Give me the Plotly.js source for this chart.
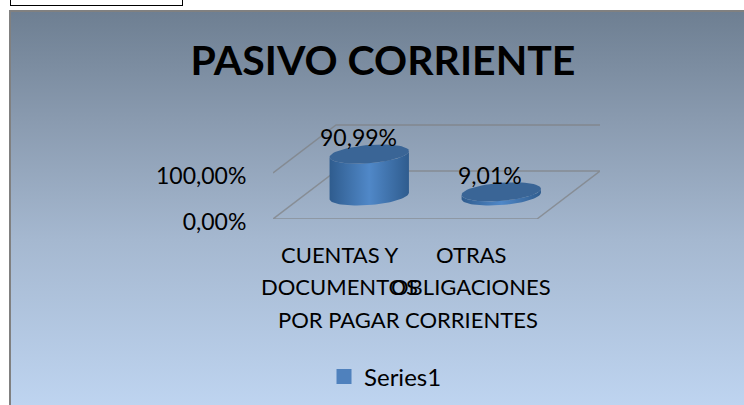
<!DOCTYPE html>
<html>
<head>
<meta charset="utf-8">
<script src="https://cdn.plot.ly/plotly-3.0.1.min.js"></script>
<style>
    html, body { margin: 0; padding: 0; background: #fff; overflow: hidden; }
    #frame { position: absolute; left: 9px; top: 10px; width: 735px; height: 395px; box-sizing: border-box;
             border-left: 2px solid #808080; border-top: 2px solid #808080;
             background: linear-gradient(#6e7f92 0%, #8a9bb0 28%, #a5b8d0 58%, #bed4f0 100%); }
    #cellbox { position: absolute; left: 10px; top: -2px; width: 173px; height: 8px; box-sizing: border-box;
               border: 1px solid #000; background: #fff; }
    #plot { position: absolute; left: 0; top: 0; width: 744px; height: 405px; }
</style>
</head>
<body>
<div id="frame"></div>
<div id="cellbox"></div>
<div id="plot"></div>
<script>
"use strict";

const titleText = "PASIVO CORRIENTE";
const seriesName = "Series1";
const categoryLines = [
    ["CUENTAS Y", "DOCUMENTOS", "POR PAGAR"],
    ["OTRAS", "OBLIGACIONES", "CORRIENTES"],
];
const values = [0.9099, 0.0901];
const valueLabels = ["90,99%", "9,01%"];
const tickValues = [0, 1];
const tickLabels = ["0,00%", "100,00%"];

const FONT = "Lato, 'Open Sans', sans-serif";

// oblique projection: one unit of depth moves this far in axis units
const DEPTH_X = 63 / 132;
const DEPTH_Y = 48 / 46;
const CENTER_DEPTH = 0.48;   // cylinders sit about mid floor
const RADIUS = 0.285;        // cylinder radius, category units
const DEPTH_RADIUS = 0.2;    // same radius along the depth axis

function project(cat, value, depth) {
    return [cat + depth * DEPTH_X, value + depth * DEPTH_Y];
}

// point on the rim of a cylinder at height value
function rim(cat, value, t) {
    const depth = CENTER_DEPTH + DEPTH_RADIUS * Math.sin(t);
    return project(cat + RADIUS * Math.cos(t), value, depth);
}

function angles(from, to, n) {
    const out = [];
    for (let i = 0; i <= n; i++) out.push(from + (to - from) * i / n);
    return out;
}

const traces = [];

// ── walls and floor ──
const gridX = [], gridY = [];
function addGridPath(points) {
    for (const p of points) { gridX.push(p[0]); gridY.push(p[1]); }
    gridX.push(null); gridY.push(null);
}
addGridPath([project(-0.5, 0, 0), project(1.5, 0, 0), project(1.5, 0, 1), project(-0.5, 0, 1), project(-0.5, 0, 0)]);
addGridPath([project(-0.5, 1, 0), project(-0.5, 1, 1), project(1.5, 1, 1)]);
traces.push({
    type: "scatter", mode: "lines", x: gridX, y: gridY,
    line: { color: "rgba(125,125,125,0.65)", width: 1.5 },
    cliponaxis: false, showlegend: false, hoverinfo: "skip",
});

// ── cylinders ──
values.forEach((v, i) => {
    // silhouette angle, where the rim reaches its widest x
    const t0 = Math.atan2(DEPTH_RADIUS * DEPTH_X, RADIUS);
    const bottom = angles(t0, t0 - Math.PI, 40).map(t => rim(i, 0, t));
    const top = angles(t0 - Math.PI, t0, 40).map(t => rim(i, v, t));
    const side = bottom.concat(top);
    traces.push({
        type: "scatter", mode: "lines",
        x: side.map(p => p[0]), y: side.map(p => p[1]),
        fill: "toself",
        fillgradient: {
            type: "horizontal",
            colorscale: [[0, "#2f5c8e"], [0.5, "#5088c8"], [1, "#2f5c8e"]],
        },
        line: { width: 0 },
        cliponaxis: false, showlegend: false, hoverinfo: "skip",
    });
    const cap = angles(0, 2 * Math.PI, 60).map(t => rim(i, v, t));
    traces.push({
        type: "scatter", mode: "lines",
        x: cap.map(p => p[0]), y: cap.map(p => p[1]),
        fill: "toself", fillcolor: "#3a6596",
        line: { width: 0 },
        cliponaxis: false, showlegend: false, hoverinfo: "skip",
    });
});

// legend entry only
traces.push({
    type: "scatter", mode: "markers", x: [null], y: [null],
    name: seriesName,
    marker: { symbol: "square", size: 15, color: "#4f81bd" },
});

const annotations = [];
categoryLines.forEach((lines, i) => {
    lines.forEach((line, k) => {
        annotations.push({
            text: line, x: i, xref: "x", y: 0, yref: "y",
            xanchor: "center", yanchor: "middle",
            yshift: -(35 + k * 32.5),
            showarrow: false, font: { family: FONT, size: 22, color: "#000" },
        });
    });
});
values.forEach((v, i) => {
    const p = project(i, v, CENTER_DEPTH);
    annotations.push({
        text: valueLabels[i], x: p[0], xref: "x", y: p[1], yref: "y",
        xanchor: "center", yanchor: "middle",
        xshift: -11, yshift: 17,
        showarrow: false, font: { family: FONT, size: 23, color: "#000" },
    });
});

const layout = {
    width: 744, height: 405,
    paper_bgcolor: "rgba(0,0,0,0)",
    plot_bgcolor: "rgba(0,0,0,0)",
    // legend sits far below the floor; don't let it squeeze the plot
    margin: { l: 273, r: 144, t: 120, b: 186, pad: 0, autoexpand: false },
    title: {
        text: "<b>" + titleText + "</b>",
        x: 383 / 744, xanchor: "center",
        y: 1 - 61 / 405, yanchor: "middle",
        font: { family: FONT, size: 41, color: "#000" },
    },
    showlegend: true,
    legend: {
        x: 0.156, xanchor: "left",
        y: -1.596, yanchor: "middle",
        bgcolor: "rgba(0,0,0,0)",
        font: { family: FONT, size: 24, color: "#000" },
    },
    xaxis: {
        range: [-0.5, 1.977],
        showgrid: false, zeroline: false, showline: false,
        showticklabels: false, ticks: "",
    },
    yaxis: {
        range: [0, 99 / 46],
        tickmode: "array", tickvals: tickValues, ticktext: tickLabels,
        tickfont: { family: FONT, size: 23, color: "#000" },
        ticks: "outside", ticklen: 21, tickcolor: "rgba(0,0,0,0)",
        ticklabelshift: 3,
        showgrid: false, zeroline: false, showline: false,
    },
    annotations: annotations,
};

Plotly.newPlot("plot", traces, layout, { displayModeBar: false, staticPlot: true });
</script>
</body>
</html>
